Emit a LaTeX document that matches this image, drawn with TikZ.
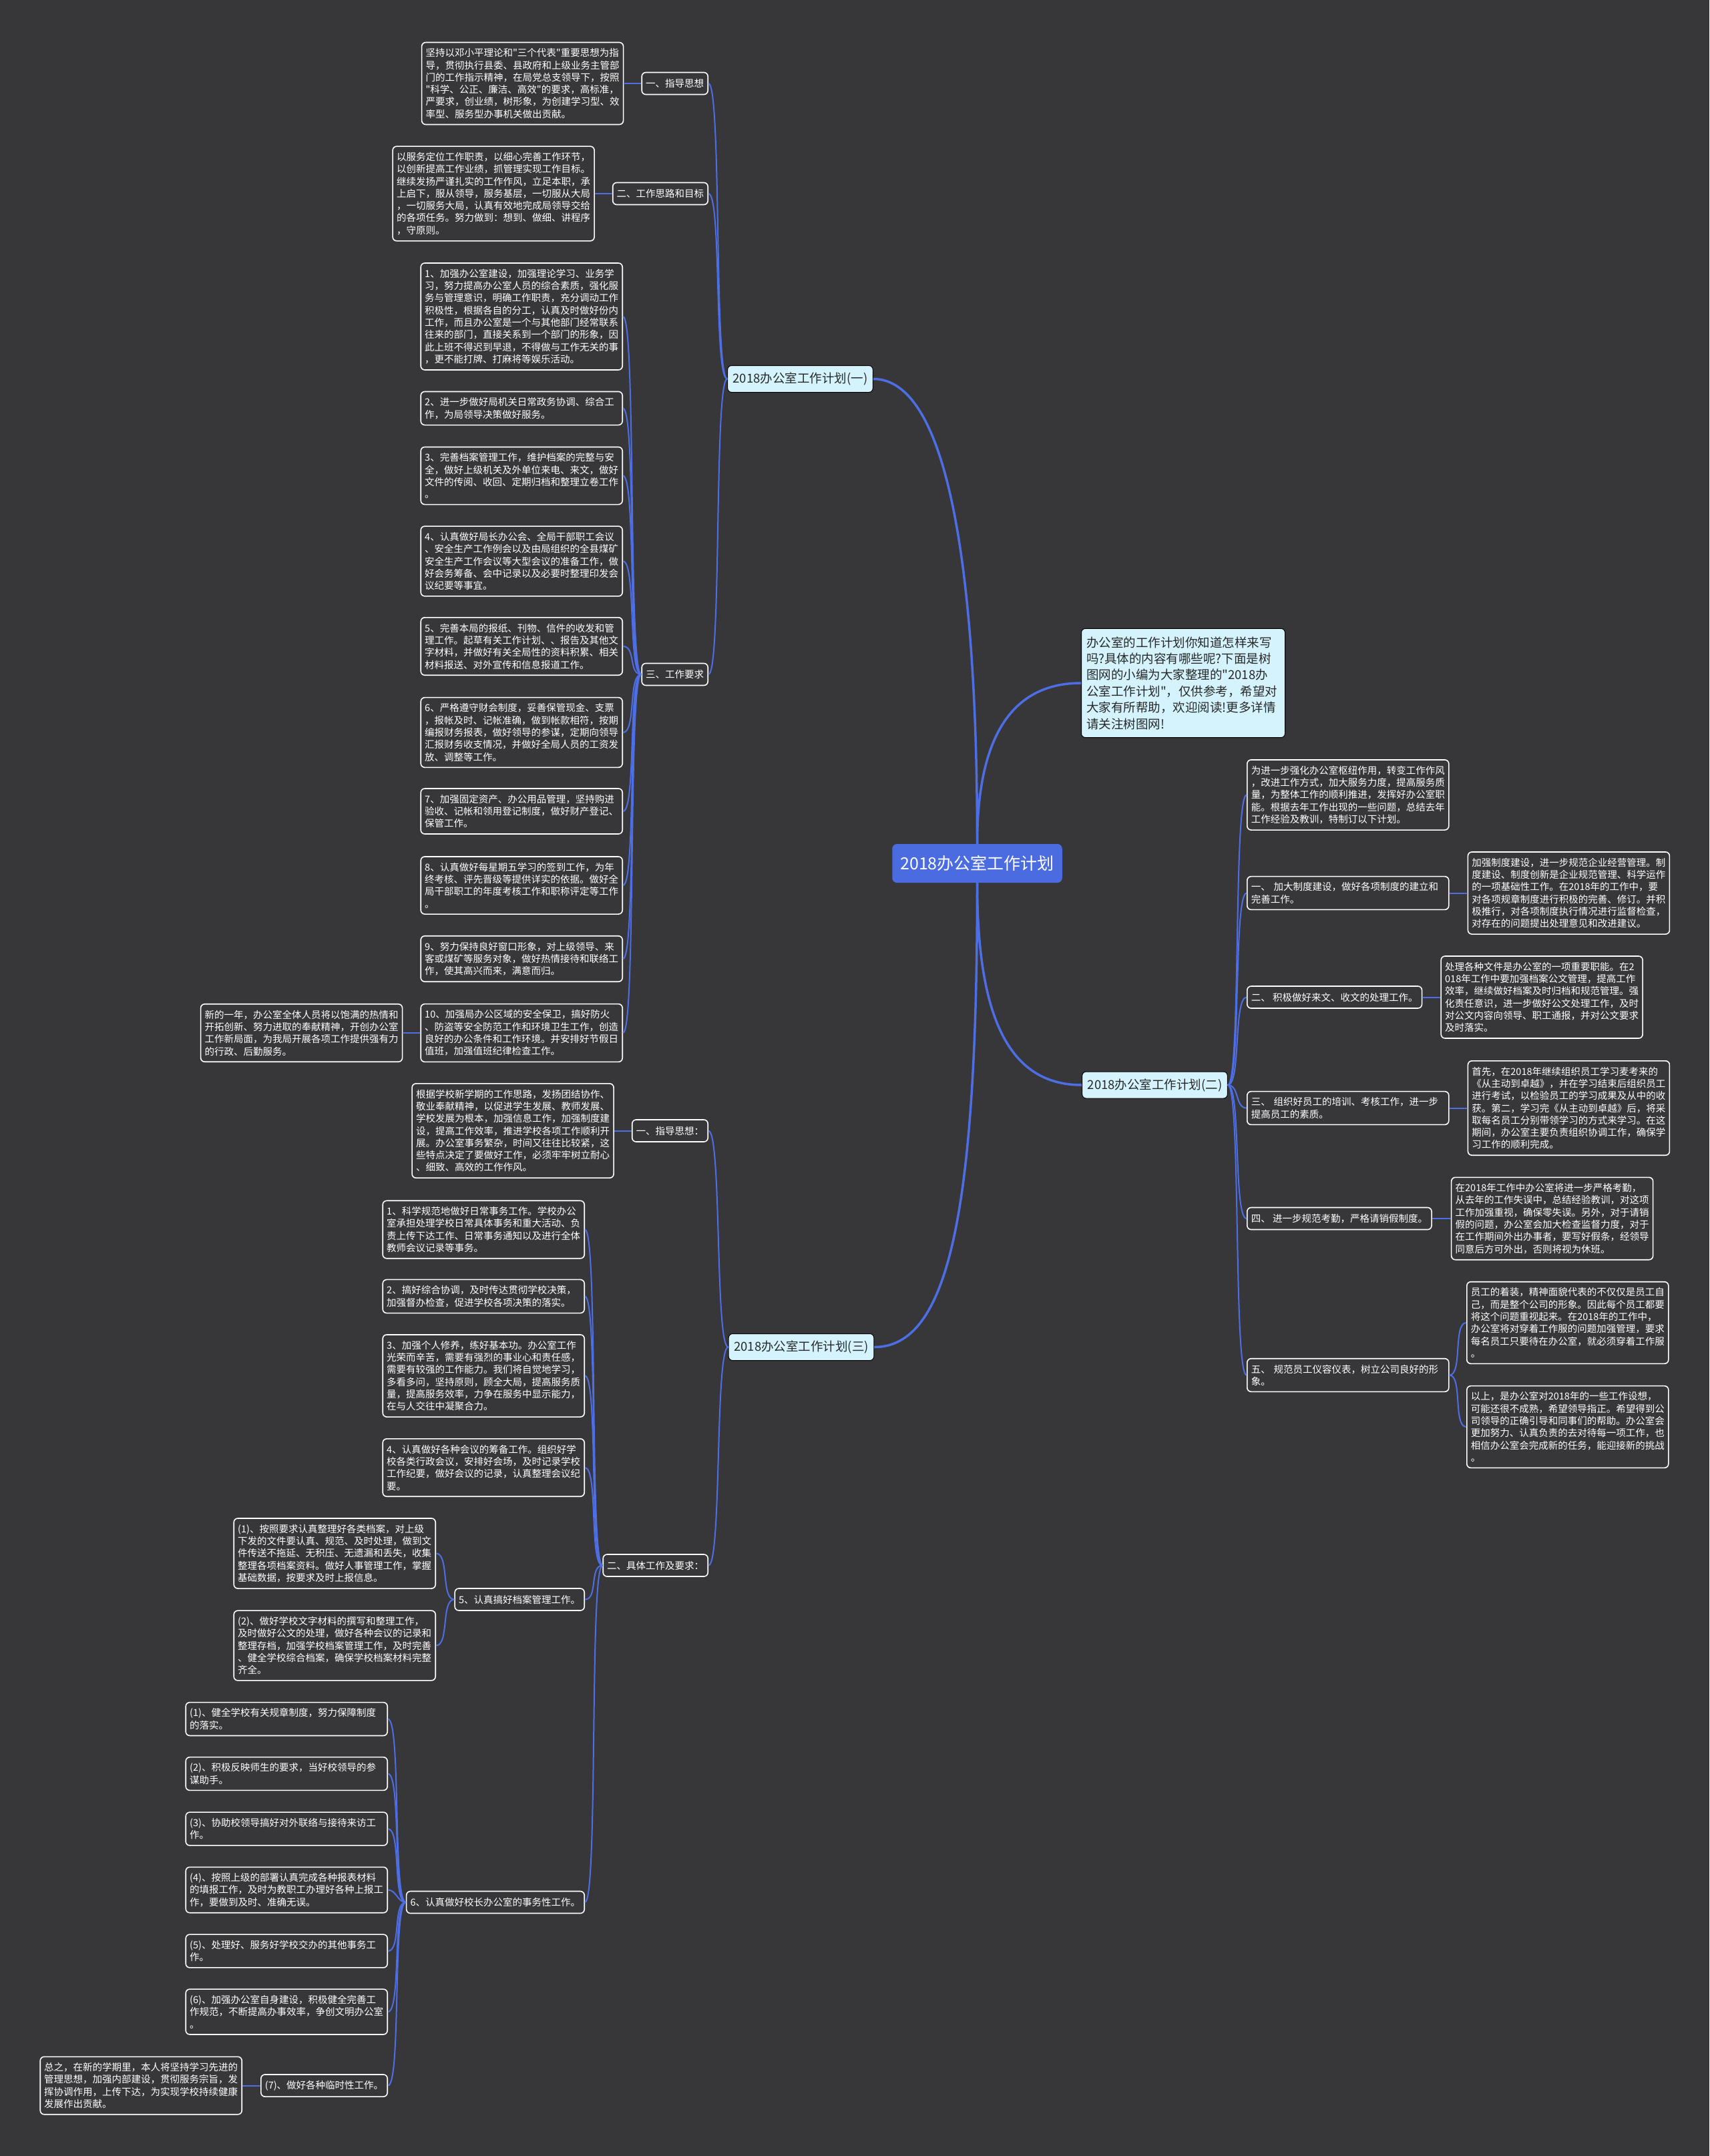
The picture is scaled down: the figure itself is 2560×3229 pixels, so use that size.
\documentclass[tikz,border=0pt]{standalone}
\usepackage{fontspec}
\setmainfont{Noto Sans CJK SC}[Ligatures=TeXOff]
\usetikzlibrary{positioning}
\definecolor{bgdark}{RGB}{55,55,57}
\definecolor{wireblue}{RGB}{77,110,228}
\definecolor{rootblue}{RGB}{74,108,224}
\definecolor{planfill}{RGB}{212,243,252}
\definecolor{plantext}{RGB}{40,40,40}

\begin{document}
\begin{tikzpicture}[x=1bp,y=1bp,
  card/.style={draw=white, line width=1.6bp, rounded corners=6bp, fill=bgdark, text=white, inner xsep=6bp, inner ysep=9bp, align=left, font=\fontsize{14.5bp}{18.3bp}\selectfont},
  leaf/.style={card, text width=290bp},
  tag/.style={card, minimum height=33bp},
  plan/.style={draw=black, line width=1bp, rounded corners=6bp, fill=planfill, text=plantext, inner xsep=8bp, inner ysep=10bp, minimum height=40bp, font=\fontsize{18.5bp}{22bp}\selectfont},
  intro/.style={draw=black, line width=1bp, rounded corners=6bp, fill=planfill, text=plantext, text width=290bp, inner xsep=7.5bp, inner ysep=12bp, align=left, font=\fontsize{18.5bp}{24.4bp}\selectfont},
  root/.style={fill=rootblue, rounded corners=7bp, text=white, inner xsep=12bp, minimum height=58bp, font=\fontsize{25bp}{30bp}\selectfont},
  wire/.style={draw=wireblue, line width=2bp},
  trunk/.style={draw=wireblue, line width=3.5bp},
  toleft/.style={out=180, in=0, max distance=20bp},
  toright/.style={out=0, in=180, max distance=20bp},
]
\useasboundingbox (0,0) rectangle (2560,-3229);
\fill[bgdark] (0,0) rectangle (2560,-3229);

% centre and main branches
\node[root] (root) at (1463.5,-1293) {2018办公室工作计划};
\node[plan] (pa) at (1198.5,-567.5) {2018办公室工作计划(一)};
\node[plan] (pb) at (1729.5,-1625) {2018办公室工作计划(二)};
\node[plan] (pc) at (1200,-2017.5) {2018办公室工作计划(三)};
\node[intro, anchor=west] (intro) at (1619,-1023) {办公室的工作计划你知道怎样来写\\吗?具体的内容有哪些呢?下面是树\\图网的小编为大家整理的"2018办\\公室工作计划"，仅供参考，希望对\\大家有所帮助，欢迎阅读!更多详情\\请关注树图网!};

% plan (一)
\node[tag, anchor=east] (t11) at (1061,-125) {一、指导思想};
\node[leaf, left=26bp of t11] (a11) {坚持以邓小平理论和"三个代表"重要思想为指\\导，贯彻执行县委、县政府和上级业务主管部\\门的工作指示精神，在局党总支领导下，按照\\"科学、公正、廉洁、高效"的要求，高标准，\\严要求，创业绩，树形象，为创建学习型、效\\率型、服务型办事机关做出贡献。};
\node[tag, anchor=east] (t12) at (1061,-290) {二、工作思路和目标};
\node[leaf, left=26bp of t12] (a12) {以服务定位工作职责，以细心完善工作环节，\\以创新提高工作业绩，抓管理实现工作目标。\\继续发扬严谨扎实的工作作风，立足本职，承\\上启下，服从领导，服务基层，一切服从大局\\，一切服务大局，认真有效地完成局领导交给\\的各项任务。努力做到：想到、做细、讲程序\\，守原则。};
\node[tag, anchor=east] (t13) at (1061,-1010) {三、工作要求};
\node[leaf, anchor=east] (b1) at (933,-474) {1、加强办公室建设，加强理论学习、业务学\\习，努力提高办公室人员的综合素质，强化服\\务与管理意识，明确工作职责，充分调动工作\\积极性，根据各自的分工，认真及时做好份内\\工作，而且办公室是一个与其他部门经常联系\\往来的部门，直接关系到一个部门的形象，因\\此上班不得迟到早退，不得做与工作无关的事\\，更不能打牌、打麻将等娱乐活动。};
\node[leaf, anchor=east] (b2) at (933,-611.5) {2、进一步做好局机关日常政务协调、综合工\\作，为局领导决策做好服务。};
\node[leaf, anchor=east] (b3) at (933,-712.5) {3、完善档案管理工作，维护档案的完整与安\\全，做好上级机关及外单位来电、来文，做好\\文件的传阅、收回、定期归档和整理立卷工作\\。};
\node[leaf, anchor=east] (b4) at (933,-840.5) {4、认真做好局长办公会、全局干部职工会议\\、安全生产工作例会以及由局组织的全县煤矿\\安全生产工作会议等大型会议的准备工作，做\\好会务筹备、会中记录以及必要时整理印发会\\议纪要等事宜。};
\node[leaf, anchor=east] (b5) at (933,-968) {5、完善本局的报纸、刊物、信件的收发和管\\理工作。起草有关工作计划、、报告及其他文\\字材料，并做好有关全局性的资料积累、相关\\材料报送、对外宣传和信息报道工作。};
\node[leaf, anchor=east] (b6) at (933,-1097) {6、严格遵守财会制度，妥善保管现金、支票\\，报帐及时、记帐准确，做到帐款相符，按期\\编报财务报表，做好领导的参谋，定期向领导\\汇报财务收支情况，并做好全局人员的工资发\\放、调整等工作。};
\node[leaf, anchor=east] (b7) at (933,-1215) {7、加强固定资产、办公用品管理，坚持购进\\验收、记帐和领用登记制度，做好财产登记、\\保管工作。};
\node[leaf, anchor=east] (b8) at (933,-1326) {8、认真做好每星期五学习的签到工作，为年\\终考核、评先晋级等提供详实的依据。做好全\\局干部职工的年度考核工作和职称评定等工作\\。};
\node[leaf, anchor=east] (b9) at (933,-1436) {9、努力保持良好窗口形象，对上级领导、来\\客或煤矿等服务对象，做好热情接待和联络工\\作，使其高兴而来，满意而归。};
\node[leaf, anchor=east] (b10) at (933,-1547) {10、加强局办公区域的安全保卫，搞好防火\\、防盗等安全防范工作和环境卫生工作，创造\\良好的办公条件和工作环境。并安排好节假日\\值班，加强值班纪律检查工作。};
\node[leaf, left=26bp of b10] (n1) {新的一年，办公室全体人员将以饱满的热情和\\开拓创新、努力进取的奉献精神，开创办公室\\工作新局面，为我局开展各项工作提供强有力\\的行政、后勤服务。};

% plan (二)
\node[leaf, anchor=west] (r0) at (1867,-1190.5) {为进一步强化办公室枢纽作用，转变工作作风\\，改进工作方式，加大服务力度，提高服务质\\量，为整体工作的顺利推进，发挥好办公室职\\能。根据去年工作出现的一些问题，总结去年\\工作经验及教训，特制订以下计划。};
\node[leaf, anchor=west] (t21) at (1867,-1337.5) {一、 加大制度建设，做好各项制度的建立和\\完善工作。};
\node[leaf, right=27bp of t21] (a21) {加强制度建设，进一步规范企业经营管理。制\\度建设、制度创新是企业规范管理、科学运作\\的一项基础性工作。在2018年的工作中，要\\对各项规章制度进行积极的完善、修订。并积\\极推行，对各项制度执行情况进行监督检查，\\对存在的问题提出处理意见和改进建议。};
\node[tag, anchor=west] (t22) at (1867,-1493.5) {二、 积极做好来文、收文的处理工作。};
\node[leaf, right=27bp of t22] (a22) {处理各种文件是办公室的一项重要职能。在2\\018年工作中要加强档案公文管理，提高工作\\效率，继续做好档案及时归档和规范管理。强\\化责任意识，进一步做好公文处理工作，及时\\对公文内容向领导、职工通报，并对公文要求\\及时落实。};
\node[leaf, anchor=west] (t23) at (1867,-1659.5) {三、 组织好员工的培训、考核工作，进一步\\提高员工的素质。};
\node[leaf, right=27bp of t23] (a23) {首先，在2018年继续组织员工学习麦考来的\\《从主动到卓越》，并在学习结束后组织员工\\进行考试，以检验员工的学习成果及从中的收\\获。第二，学习完《从主动到卓越》后，将采\\取每名员工分别带领学习的方式来学习。在这\\期间，办公室主要负责组织协调工作，确保学\\习工作的顺利完成。};
\node[tag, anchor=west] (t24) at (1867,-1825) {四、 进一步规范考勤，严格请销假制度。};
\node[leaf, right=28bp of t24] (a24) {在2018年工作中办公室将进一步严格考勤，\\从去年的工作失误中，总结经验教训，对这项\\工作加强重视，确保零失误。另外，对于请销\\假的问题，办公室会加大检查监督力度，对于\\在工作期间外出办事者，要写好假条，经领导\\同意后方可外出，否则将视为休班。};
\node[leaf, anchor=west] (t25) at (1867,-2059.5) {五、 规范员工仪容仪表，树立公司良好的形\\象。};
\node[leaf, anchor=west] (a25) at (2196,-1981) {员工的着装，精神面貌代表的不仅仅是员工自\\己，而是整个公司的形象。因此每个员工都要\\将这个问题重视起来。在2018年的工作中，\\办公室将对穿着工作服的问题加强管理，要求\\每名员工只要待在办公室，就必须穿着工作服\\。};
\node[leaf, anchor=west] (a26) at (2196,-2137) {以上，是办公室对2018年的一些工作设想，\\可能还很不成熟，希望领导指正。希望得到公\\司领导的正确引导和同事们的帮助。办公室会\\更加努力、认真负责的去对待每一项工作，也\\相信办公室会完成新的任务，能迎接新的挑战\\。};

% plan (三)
\node[tag, anchor=east] (t31) at (1061,-1693.5) {一、指导思想：};
\node[leaf, left=26bp of t31] (a31) {根据学校新学期的工作思路，发扬团结协作、\\敬业奉献精神，以促进学生发展、教师发展、\\学校发展为根本，加强信息工作，加强制度建\\设，提高工作效率，推进学校各项工作顺利开\\展。办公室事务繁杂，时间又往往比较紧，这\\些特点决定了要做好工作，必须牢牢树立耐心\\、细致、高效的工作作风。};
\node[tag, anchor=east] (t32) at (1061,-2344.5) {二、具体工作及要求：};
\node[leaf, anchor=east] (d1) at (876,-1841.5) {1、科学规范地做好日常事务工作。学校办公\\室承担处理学校日常具体事务和重大活动、负\\责上传下达工作、日常事务通知以及进行全体\\教师会议记录等事务。};
\node[leaf, anchor=east] (d2) at (876,-1941.5) {2、搞好综合协调，及时传达贯彻学校决策，\\加强督办检查，促进学校各项决策的落实。};
\node[leaf, anchor=east] (d3) at (876,-2060.5) {3、加强个人修养，练好基本功。办公室工作\\光荣而辛苦，需要有强烈的事业心和责任感，\\需要有较强的工作能力。我们将自觉地学习，\\多看多问，坚持原则，顾全大局，提高服务质\\量，提高服务效率，力争在服务中显示能力，\\在与人交往中凝聚合力。};
\node[leaf, anchor=east] (d4) at (876,-2198) {4、认真做好各种会议的筹备工作。组织好学\\校各类行政会议，安排好会场，及时记录学校\\工作纪要，做好会议的记录，认真整理会议纪\\要。};
\node[tag, anchor=east] (t35) at (876,-2395.5) {5、认真搞好档案管理工作。};
\node[leaf, anchor=east] (e1) at (653,-2326.5) {(1)、按照要求认真整理好各类档案，对上级\\下发的文件要认真、规范、及时处理，做到文\\件传送不拖延、无积压、无遗漏和丢失，收集\\整理各项档案资料。做好人事管理工作，掌握\\基础数据，按要求及时上报信息。};
\node[leaf, anchor=east] (e2) at (653,-2464.5) {(2)、做好学校文字材料的撰写和整理工作，\\及时做好公文的处理，做好各种会议的记录和\\整理存档，加强学校档案管理工作，及时完善\\、健全学校综合档案，确保学校档案材料完整\\齐全。};
\node[tag, anchor=east] (t36) at (876,-2849) {6、认真做好校长办公室的事务性工作。};
\node[leaf, anchor=east] (f1) at (581,-2574.5) {(1)、健全学校有关规章制度，努力保障制度\\的落实。};
\node[leaf, anchor=east] (f2) at (581,-2656.5) {(2)、积极反映师生的要求，当好校领导的参\\谋助手。};
\node[leaf, anchor=east] (f3) at (581,-2739) {(3)、协助校领导搞好对外联络与接待来访工\\作。};
\node[leaf, anchor=east] (f4) at (581,-2830.5) {(4)、按照上级的部署认真完成各种报表材料\\的填报工作，及时为教职工办理好各种上报工\\作，要做到及时、准确无误。};
\node[leaf, anchor=east] (f5) at (581,-2922) {(5)、处理好、服务好学校交办的其他事务工\\作。};
\node[leaf, anchor=east] (f6) at (581,-3013) {(6)、加强办公室自身建设，积极健全完善工\\作规范，不断提高办事效率，争创文明办公室\\。};
\node[tag, anchor=east] (t37) at (581,-3123.5) {(7)、做好各种临时性工作。};
\node[leaf, left=27bp of t37] (g) {总之，在新的学期里，本人将坚持学习先进的\\管理思想，加强内部建设，贯彻服务宗旨，发\\挥协调作用，上传下达，为实现学校持续健康\\发展作出贡献。};

% connectors
\draw[trunk] (root.north) .. controls +(0,420) and +(110,0) .. (pa.east);
\draw[trunk] (root.north) .. controls +(0,150) and +(-110,0) .. (intro.west);
\draw[trunk] (root.south) .. controls +(0,-200) and +(-110,0) .. (pb.west);
\draw[trunk] (root.south) .. controls +(0,-500) and +(110,0) .. (pc.east);

\foreach \t in {t11,t12,t13} \draw[wire] (pa.west) to[toleft] (\t.east);
\draw[wire] (t11.west) -- (a11.east);
\draw[wire] (t12.west) -- (a12.east);
\foreach \i in {1,...,10} \draw[wire] (t13.west) to[toleft] (b\i.east);
\draw[wire] (b10.west) -- (n1.east);

\foreach \t in {r0,t21,t22,t23,t24,t25} \draw[wire] (pb.east) to[toright] (\t.west);
\draw[wire] (t21.east) -- (a21.west);
\draw[wire] (t22.east) -- (a22.west);
\draw[wire] (t23.east) -- (a23.west);
\draw[wire] (t24.east) -- (a24.west);
\foreach \t in {a25,a26} \draw[wire] (t25.east) to[toright] (\t.west);

\foreach \t in {t31,t32} \draw[wire] (pc.west) to[toleft] (\t.east);
\draw[wire] (t31.west) -- (a31.east);
\foreach \t in {d1,d2,d3,d4,t35,t36} \draw[wire] (t32.west) to[toleft] (\t.east);
\foreach \t in {e1,e2} \draw[wire] (t35.west) to[toleft] (\t.east);
\foreach \t in {f1,f2,f3,f4,f5,f6,t37} \draw[wire] (t36.west) to[toleft] (\t.east);
\draw[wire] (t37.west) -- (g.east);
\end{tikzpicture}
\end{document}
